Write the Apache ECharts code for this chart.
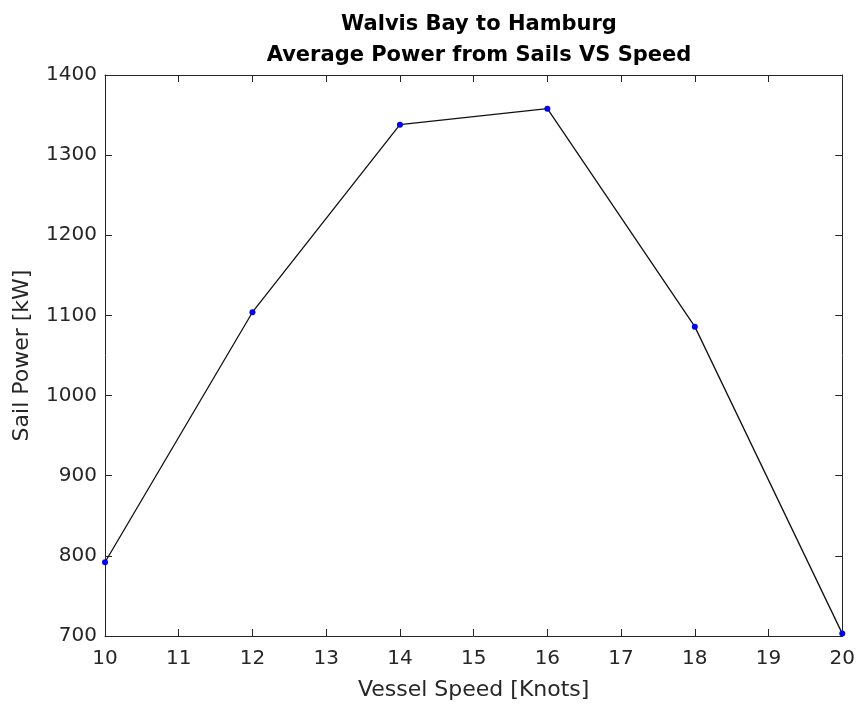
<!DOCTYPE html>
<html>
<head>
<meta charset="utf-8">
<script src="https://cdn.jsdelivr.net/npm/echarts@6/dist/echarts.min.js"></script>
<style>
  html, body { margin: 0; padding: 0; background: #fff; }
  #chart { width: 858px; height: 708px; }
</style>
</head>
<body>
<div id="chart"></div>
<script>
// vessel speed [knots] and average sail power [kW]
const speeds = [10, 12, 14, 16, 18, 20];
const sailPower = [792, 1104, 1338, 1358, 1086, 703];

const axisColor = '#262626';
const font = 'DejaVu Sans, sans-serif';

const chart = echarts.init(document.getElementById('chart'));

const baseAxis = {
    type: 'value',
    axisLine: { show: true, onZero: false, lineStyle: { color: axisColor, width: 1 } },
    axisTick: { show: true, inside: true, length: 7, lineStyle: { color: axisColor } },
    splitLine: { show: false },
    axisLabel: { color: axisColor, fontSize: 20, fontFamily: font, formatter: v => String(v) }
};

chart.setOption({
    animation: false,
    title: {
        text: 'Walvis Bay to Hamburg\nAverage Power from Sails VS Speed',
        left: 474,
        top: 4,
        textAlign: 'center',
        textStyle: { color: '#000', fontSize: 21, fontWeight: 'bold', fontFamily: font, lineHeight: 31 }
    },
    grid: { left: 105, right: 15, top: 75, bottom: 72 },
    xAxis: [
        Object.assign({}, baseAxis, {
            min: 10, max: 20, interval: 1,
            name: 'Vessel Speed [Knots]',
            nameLocation: 'middle',
            nameGap: 43,
            nameTextStyle: { color: axisColor, fontSize: 22, fontFamily: font },
            axisLabel: Object.assign({}, baseAxis.axisLabel, { margin: 13 })
        }),
        Object.assign({}, baseAxis, {
            min: 10, max: 20, interval: 1, position: 'top',
            axisLabel: { show: false }
        })
    ],
    yAxis: [
        Object.assign({}, baseAxis, {
            min: 700, max: 1400, interval: 100,
            name: 'Sail Power [kW]',
            nameLocation: 'middle',
            nameGap: 72,
            nameTextStyle: { color: axisColor, fontSize: 22, fontFamily: font },
            axisLabel: Object.assign({}, baseAxis.axisLabel, { margin: 8 })
        }),
        Object.assign({}, baseAxis, {
            min: 700, max: 1400, interval: 100, position: 'right',
            axisLabel: { show: false }
        })
    ],
    series: [
        {
            type: 'line',
            data: speeds.map((s, i) => [s, sailPower[i]]),
            lineStyle: { color: '#111', width: 1.3 },
            symbol: 'circle',
            symbolSize: 6,
            itemStyle: { color: '#0000ff' },
            clip: false
        }
    ]
});
</script>
</body>
</html>
